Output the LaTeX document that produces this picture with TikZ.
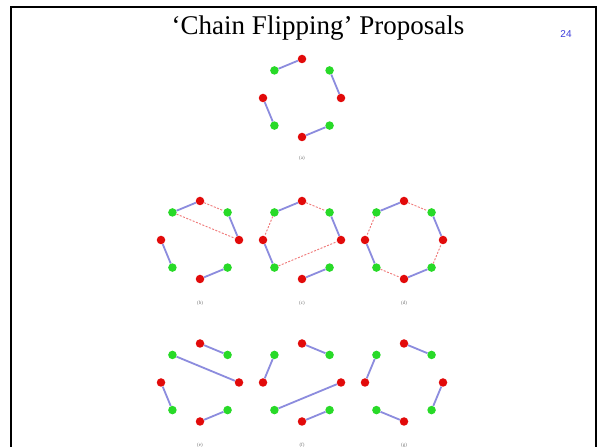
\documentclass[tikz,border=0pt]{standalone}
\usepackage{fontspec}
\setmainfont{Liberation Serif}
\newfontfamily\pagenumfont{Liberation Sans}
\usetikzlibrary{positioning}

\definecolor{dotred}{RGB}{226,10,10}
\definecolor{dotgreen}{RGB}{40,218,40}
\definecolor{bondblue}{RGB}{140,140,222}
\definecolor{flipred}{RGB}{240,120,120}
\definecolor{numblue}{RGB}{60,60,220}

% ring of eight alternating red/green sites: prefix, centre x, centre y, label y
\newcommand{\sitering}[4]{%
  \foreach \k/\kind in {0/rsite,1/gsite,2/rsite,3/gsite,4/rsite,5/gsite,6/rsite,7/gsite}
    \node[\kind] (#1\k) at ([shift={(#2,#3)}]45*\k:39) {};
  \node[tag] (#1lbl) at (#2,#4) {(#1)};
}

\begin{document}
\begin{tikzpicture}[
  x=1pt,y=1pt,
  rsite/.style={circle,fill=dotred,minimum size=8.5pt,inner sep=0pt},
  gsite/.style={circle,fill=dotgreen,minimum size=8.5pt,inner sep=0pt},
  bond/.style={draw=bondblue,line width=1.8pt},
  flip/.style={draw=flipred,line width=0.9pt,dash pattern=on 2pt off 1.5pt},
  tag/.style={font=\fontsize{5}{6}\selectfont,text=black!55,inner sep=0pt},
  heading/.style={font=\fontsize{27}{30}\selectfont,anchor=base,inner sep=0pt}
]
  \useasboundingbox[fill=white] (0,0) rectangle (600,447);
  \draw[line width=2pt] (10.5,-5) -- (10.5,439.5) -- (596,439.5) -- (596,-5);

  \node[heading] (title) at (318,412) {‘Chain Flipping’ Proposals};
  \node[anchor=base,inner sep=0pt,text=numblue,font=\pagenumfont\fontsize{10}{12}\selectfont] (pagenum) at (566,409) {24};

  % top ring
  \sitering{a}{302}{349}{289}
  \draw[bond] (a2) -- (a3) (a1) -- (a0) (a4) -- (a5) (a6) -- (a7);

  % middle row
  \sitering{b}{200}{207}{144}
  \sitering{c}{302}{207}{144}
  \sitering{d}{404}{207}{144}
  \draw[bond] (b2) -- (b3) (b1) -- (b0) (b4) -- (b5) (b6) -- (b7);
  \draw[flip] (b2) -- (b1) (b3) -- (b0);
  \draw[bond] (c2) -- (c3) (c1) -- (c0) (c4) -- (c5) (c6) -- (c7);
  \draw[flip] (c2) -- (c1) (c3) -- (c4) (c5) -- (c0);
  \draw[bond] (d2) -- (d3) (d1) -- (d0) (d4) -- (d5) (d6) -- (d7);
  \draw[flip] (d2) -- (d1) (d3) -- (d4) (d5) -- (d6) (d7) -- (d0);

  % bottom row
  \sitering{e}{200}{64.5}{2}
  \sitering{f}{302}{64.5}{2}
  \sitering{g}{404}{64.5}{2}
  \draw[bond] (e2) -- (e1) (e3) -- (e0) (e4) -- (e5) (e6) -- (e7);
  \draw[bond] (f2) -- (f1) (f3) -- (f4) (f5) -- (f0) (f6) -- (f7);
  \draw[bond] (g2) -- (g1) (g3) -- (g4) (g5) -- (g6) (g7) -- (g0);
\end{tikzpicture}
\end{document}
